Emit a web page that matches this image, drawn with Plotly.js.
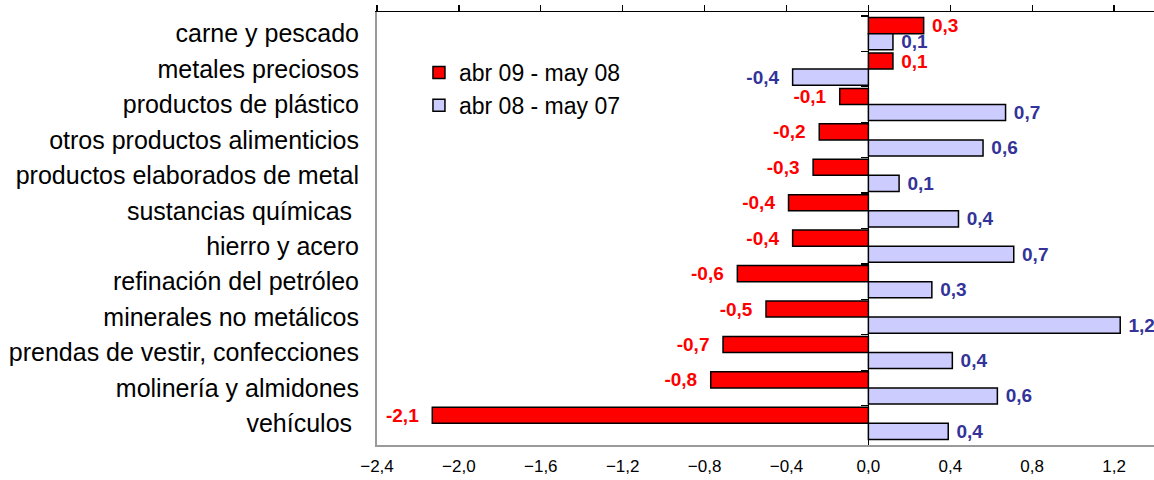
<!DOCTYPE html>
<html>
<head>
<meta charset="utf-8">
<script src="https://cdn.plot.ly/plotly-3.0.1.min.js"></script>
<style>html,body{margin:0;padding:0;background:#fff;}#chart{width:1154px;height:480px;}</style>
</head>
<body>
<div id="chart"></div>
<script>
const categories = [
  "carne y pescado",
  "metales preciosos",
  "productos de plástico",
  "otros productos alimenticios",
  "productos elaborados de metal",
  "sustancias químicas ",
  "hierro y acero",
  "refinación del petróleo",
  "minerales no metálicos",
  "prendas de vestir, confecciones",
  "molinería y almidones",
  "vehículos "
];
const seriesNames = ["abr 09 - may 08", "abr 08 - may 07"];
const valuesAbr09 = [0.27, 0.12, -0.14, -0.24, -0.27, -0.39, -0.37, -0.64, -0.50, -0.71, -0.77, -2.13];
const valuesAbr08 = [0.12, -0.37, 0.67, 0.56, 0.15, 0.44, 0.71, 0.31, 1.23, 0.41, 0.63, 0.39];
const xTicks = [-2.4, -2.0, -1.6, -1.2, -0.8, -0.4, 0.0, 0.4, 0.8, 1.2];

const FONT = "Liberation Sans, Arial, sans-serif";
const NB = "\u00a0";
function labelTemplates(vals) {
  return vals.map(v => v < 0 ? "%{x:.1f}" + NB + NB : NB + "%{x:.1f}");
}

const traces = [
  {
    type: "bar", orientation: "h", name: seriesNames[0],
    x: valuesAbr09, y: categories,
    marker: {color: "#FF0000", line: {color: "#000000", width: 1.5}},
    texttemplate: labelTemplates(valuesAbr09), textposition: "outside", cliponaxis: false,
    constraintext: "none",
    textfont: {family: FONT, size: 19, color: "#FF0000", weight: "bold"},
    hoverinfo: "x+y"
  },
  {
    type: "bar", orientation: "h", name: seriesNames[1],
    x: valuesAbr08, y: categories,
    marker: {color: "#CCCCFF", line: {color: "#000000", width: 1.5}},
    texttemplate: labelTemplates(valuesAbr08), textposition: "outside", cliponaxis: false,
    constraintext: "none",
    textfont: {family: FONT, size: 19, color: "#333399", weight: "bold"},
    hoverinfo: "x+y"
  },
  {
    type: "scatter", mode: "none", x: categories.map(() => 0), y: categories,
    xaxis: "x2", yaxis: "y2", showlegend: false, hoverinfo: "skip"
  }
];

const range = [-2.4, 1.395];
const layout = {
  width: 1154, height: 480,
  margin: {l: 377, r: 0, t: 12, b: 35},
  paper_bgcolor: "#ffffff", plot_bgcolor: "#ffffff",
  separators: ",.",
  barmode: "group", bargap: 0.09, bargroupgap: 0,
  font: {family: FONT, color: "#000000"},
  showlegend: true,
  legend: {
    x: 0.054, y: 0.91, xanchor: "left", yanchor: "top",
    traceorder: "normal", bgcolor: "rgba(0,0,0,0)", tracegroupgap: 0,
    font: {family: FONT, size: 23, color: "#000000"}
  },
  xaxis: {
    range: range, tickvals: xTicks, tickformat: ".1f",
    showgrid: false, zeroline: true, zerolinecolor: "#000000", zerolinewidth: 1.5,
    showline: true, linecolor: "#9a9a9a", linewidth: 2,
    ticks: "", ticklabelstandoff: 5,
    tickfont: {family: FONT, size: 17, color: "#000000"},
    fixedrange: true
  },
  xaxis2: {
    overlaying: "x", matches: "x", side: "top", anchor: "y",
    tickvals: xTicks, showticklabels: false, showgrid: false, zeroline: false,
    showline: true, linecolor: "#000000", linewidth: 1.5,
    ticks: "outside", ticklen: 6, tickcolor: "#000000", tickwidth: 1.2
  },
  yaxis: {
    type: "category", autorange: "reversed",
    showgrid: false, zeroline: false,
    showline: true, linecolor: "#9a9a9a", linewidth: 2,
    ticks: "", ticklabelstandoff: 11,
    tickfont: {family: FONT, size: 25, color: "#000000"},
    fixedrange: true
  },
  yaxis2: {
    type: "category", overlaying: "y", matches: "y", anchor: "free",
    position: (0 - range[0]) / (range[1] - range[0]),
    side: "left", showticklabels: false, showgrid: false, zeroline: false,
    showline: false, ticks: "outside", tickson: "boundaries", ticklen: 7,
    tickcolor: "#000000", tickwidth: 1.2
  }
};

Plotly.newPlot("chart", traces, layout, {displayModeBar: false, staticPlot: true});
</script>
</body>
</html>
